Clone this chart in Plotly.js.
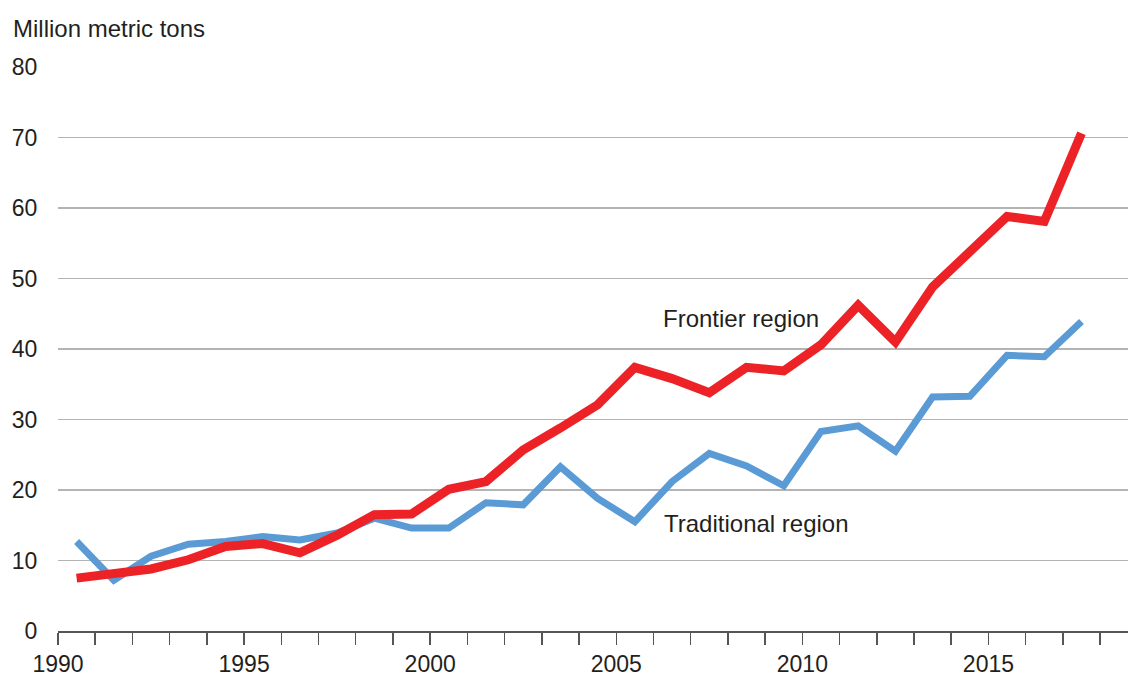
<!DOCTYPE html>
<html>
<head>
<meta charset="utf-8">
<script src="https://cdn.plot.ly/plotly-3.0.1.min.js"></script>
<style>html,body{margin:0;padding:0;background:#fff;}#chart{width:1128px;height:677px;}</style>
</head>
<body>
<div id="chart"></div>
<script>
const years = [1990,1991,1992,1993,1994,1995,1996,1997,1998,1999,2000,2001,2002,2003,2004,2005,2006,2007,2008,2009,2010,2011,2012,2013,2014,2015,2016,2017];
const frontier = [7.5,8.3,8.8,10.1,12.0,12.4,11.1,13.6,16.5,16.6,20.1,21.2,25.7,28.8,32.1,37.4,35.8,33.8,37.4,36.9,40.6,46.2,41.0,48.8,53.8,58.8,58.1,70.6];
const traditional = [12.7,7.2,10.6,12.3,12.7,13.4,12.9,13.9,16.0,14.6,14.6,18.2,17.9,23.3,18.8,15.5,21.2,25.2,23.4,20.6,28.3,29.1,25.5,33.2,33.3,39.1,38.9,43.9];
const seriesNames = ["Frontier region","Traditional region"];
const yTicks = [0,10,20,30,40,50,60,70,80];
const xTickYears = [1990,1991,1992,1993,1994,1995,1996,1997,1998,1999,2000,2001,2002,2003,2004,2005,2006,2007,2008,2009,2010,2011,2012,2013,2014,2015,2016,2017,2018];
const xTickText = xTickYears.map(y => (y % 5 === 0 ? String(y) : ""));
const yTitle = "Million metric tons";

const xMid = years.map(y => y + 0.5);
const font = "Liberation Sans, Arial, Helvetica, sans-serif";
const ink = "#231f20";

const data = [
  {x: xMid, y: traditional, type: "scatter", mode: "lines", name: seriesNames[1],
   line: {color: "#5b9bd5", width: 7}, hoverinfo: "skip"},
  {x: xMid, y: frontier, type: "scatter", mode: "lines", name: seriesNames[0],
   line: {color: "#ed2226", width: 9}, hoverinfo: "skip"}
];

const layout = {
  width: 1128, height: 677,
  margin: {l: 58, r: 0, t: 67, b: 46, pad: 0},
  paper_bgcolor: "#fff", plot_bgcolor: "#fff",
  showlegend: false,
  font: {family: font, size: 23, color: ink},
  xaxis: {
    range: [1990, 2018.75], tickmode: "array", tickvals: xTickYears, ticktext: xTickText,
    ticks: "outside", ticklen: 12, tickwidth: 1.5, tickcolor: "#555",
    showline: true, linecolor: "#555", linewidth: 2,
    showgrid: false, zeroline: false, fixedrange: true,
    tickfont: {family: font, size: 23, color: ink}, ticklabelstandoff: -1
  },
  yaxis: {
    range: [0, 80], tickmode: "array", tickvals: yTicks,
    ticks: "outside", ticklen: 15, tickcolor: "rgba(0,0,0,0)",
    showline: false, showgrid: true, gridcolor: "#b4b4b4", gridwidth: 1.2,
    zeroline: false, fixedrange: true,
    tickfont: {family: font, size: 23, color: ink}
  },
  annotations: [
    {xref: "paper", yref: "paper", x: -47/1070, y: 1 + 39/564, xanchor: "left", yanchor: "middle",
     text: yTitle, showarrow: false, font: {family: font, size: 24, color: ink}},
    {xref: "x", yref: "y", x: 2006.2, y: 44.3, xanchor: "left", yanchor: "middle",
     text: seriesNames[0], showarrow: false, font: {family: font, size: 24, color: ink}},
    {xref: "x", yref: "y", x: 2006.23, y: 15.3, xanchor: "left", yanchor: "middle",
     text: seriesNames[1], showarrow: false, font: {family: font, size: 24, color: ink}}
  ]
};

Plotly.newPlot("chart", data, layout, {displayModeBar: false, staticPlot: true});
</script>
</body>
</html>
